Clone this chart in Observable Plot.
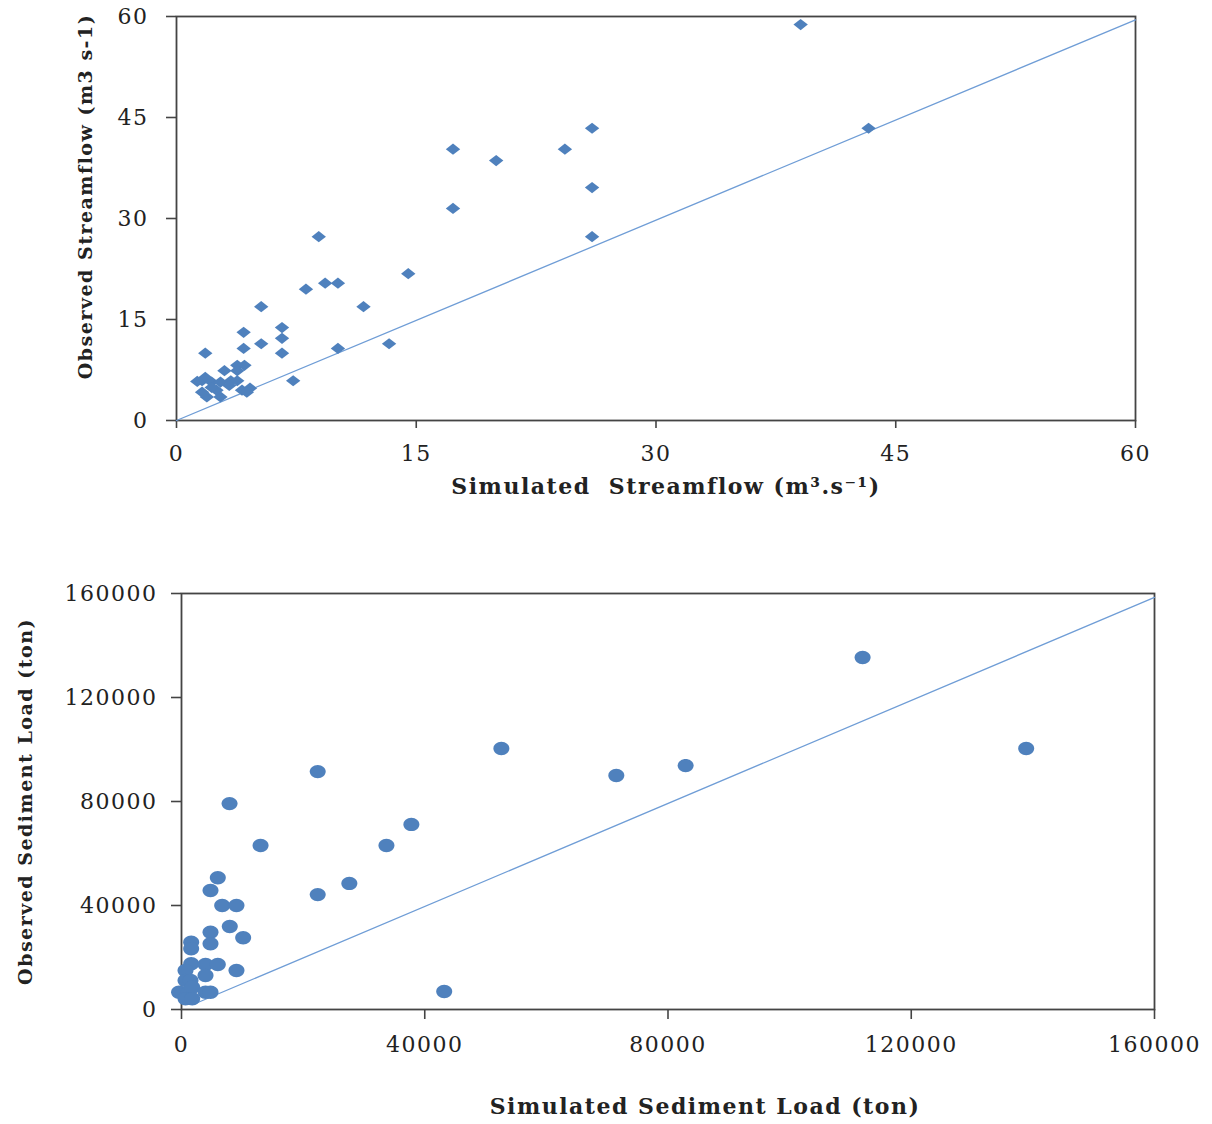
<!DOCTYPE html>
<html>
<head>
<meta charset="utf-8">
<script src="https://cdn.jsdelivr.net/npm/d3@7"></script>
<script src="https://cdn.jsdelivr.net/npm/@observablehq/plot@0.6"></script>
<style>
  body { margin: 0; background: #fff; }
  #chart { width: 1212px; }
  svg { display: block; }
</style>
</head>
<body>
<div id="chart"></div>
<script>
// ---- Streamflow (top) ----
const simFlow = [39.05, 43.3, 26.0, 24.3, 17.3, 20.0, 26.0, 17.3, 26.0, 8.9, 14.5, 9.3, 10.1, 8.1, 5.3, 11.7, 6.6, 4.2, 6.6, 5.3, 13.3, 4.2, 10.1, 1.8, 6.6, 7.3, 3.0, 3.8, 4.25, 3.8, 1.6, 1.8, 2.2, 2.75, 3.4, 3.8, 1.6, 1.9, 2.5, 2.75, 3.3, 4.1, 4.6, 4.4, 1.3, 2.2];
const obsFlow = [58.8, 43.4, 43.4, 40.3, 40.3, 38.6, 34.6, 31.5, 27.3, 27.3, 21.8, 20.4, 20.4, 19.5, 16.9, 16.9, 13.8, 13.1, 12.2, 11.4, 11.4, 10.7, 10.7, 10.0, 10.0, 5.9, 7.4, 8.2, 8.2, 7.4, 5.9, 6.4, 5.7, 5.7, 5.9, 5.9, 4.2, 3.5, 4.5, 3.5, 5.2, 4.5, 4.8, 4.2, 5.8, 4.9];
const flowTicks = [0, 15, 30, 45, 60];
const flowLineX = [0, 60];
const flowLineY = [0, 59.5];

// ---- Sediment (bottom) ----
const simSed = [112000, 138900, 52600, 82900, 71500, 22400, 7900, 37800, 13000, 33700, 27600, 22400, 43200, 5970, 4770, 6690, 9040, 7940, 10140, 4770, 4770, 1590, 1590, 1590, 3950, 5970, 9040, 3950, 660, 660, 1480, -400, 1200, 1760, 3950, 4770, 660, 1760];
const obsSed = [135400, 100400, 100400, 93800, 90000, 91500, 79200, 71200, 63100, 63100, 48500, 44200, 6900, 50650, 45770, 40000, 40000, 31920, 27580, 29730, 25270, 25880, 23350, 17580, 17300, 17300, 15000, 13080, 15000, 11150, 11150, 6650, 6650, 8580, 6650, 6650, 4120, 4120];
const sedTicks = [0, 40000, 80000, 120000, 160000];
const sedLineX = [2300, 160000];
const sedLineY = [2300, 158500];

const blue = "#4F81BD";
const lineBlue = "#6F9DD6";
const axisColor = "#444";

const diamondSymbol = {
  draw(ctx) {
    ctx.moveTo(0, -5.6);
    ctx.lineTo(7.2, 0);
    ctx.lineTo(0, 5.6);
    ctx.lineTo(-7.2, 0);
    ctx.closePath();
  }
};
const ellipseSymbol = {
  draw(ctx) {
    const rx = 8, ry = 6.7, k = 0.5523;
    ctx.moveTo(rx, 0);
    ctx.bezierCurveTo(rx, ry * k, rx * k, ry, 0, ry);
    ctx.bezierCurveTo(-rx * k, ry, -rx, ry * k, -rx, 0);
    ctx.bezierCurveTo(-rx, -ry * k, -rx * k, -ry, 0, -ry);
    ctx.bezierCurveTo(rx * k, -ry, rx, -ry * k, rx, 0);
    ctx.closePath();
  }
};

const baseStyle = {fontFamily: "DejaVu Serif", fontSize: "22px", color: "#222", letterSpacing: "1.5px", background: "#fff"};

const flowData = simFlow.map((x, i) => ({x, y: obsFlow[i]}));
const flowLine = flowLineX.map((x, i) => ({x, y: flowLineY[i]}));

const flowPlot = Plot.plot({
  width: 1212,
  height: 540,
  marginLeft: 176,
  marginRight: 77,
  marginTop: 16,
  marginBottom: 120,
  style: baseStyle,
  x: {domain: [0, 60], ticks: flowTicks},
  y: {domain: [0, 60], ticks: flowTicks},
  marks: [
    Plot.axisX({ticks: flowTicks, tickSize: 8, tickPadding: 17, label: null, stroke: axisColor, strokeWidth: 1.6, fontSize: 22}),
    Plot.axisY({ticks: flowTicks, tickSize: 10, tickPadding: 18, label: null, stroke: axisColor, strokeWidth: 1.6, fontSize: 22}),
    Plot.frame({stroke: axisColor, strokeWidth: 1.8}),
    Plot.line(flowLine, {x: "x", y: "y", stroke: lineBlue, strokeWidth: 1.3}),
    Plot.dot(flowData, {x: "x", y: "y", symbol: diamondSymbol, fill: blue, stroke: "none"}),
    Plot.text(["Observed Streamflow (m3 s-1)"], {frameAnchor: "left", textAnchor: "middle", rotate: -90, dx: -91, dy: -22, fontWeight: "bold", fontSize: 19, fill: "#222"}),
    Plot.text(["Simulated\u00a0\u00a0Streamflow (m³.s⁻¹)"], {frameAnchor: "bottom", dx: 10, dy: 73, fontWeight: "bold", fontSize: 22, fill: "#222"})
  ]
});

const sedData = simSed.map((x, i) => ({x, y: obsSed[i]}));
const sedLine = sedLineX.map((x, i) => ({x, y: sedLineY[i]}));

const sedPlot = Plot.plot({
  width: 1212,
  height: 584,
  marginLeft: 181,
  marginRight: 58,
  marginTop: 53,
  marginBottom: 115,
  style: baseStyle,
  x: {domain: [0, 160000], ticks: sedTicks, tickFormat: d => String(d)},
  y: {domain: [0, 160000], ticks: sedTicks, tickFormat: d => String(d)},
  marks: [
    Plot.axisX({ticks: sedTicks, tickFormat: d => String(d), tickSize: 10, tickPadding: 17, label: null, stroke: axisColor, strokeWidth: 1.6, fontSize: 22}),
    Plot.axisY({ticks: sedTicks, tickFormat: d => String(d), tickSize: 10, tickPadding: 14, label: null, stroke: axisColor, strokeWidth: 1.6, fontSize: 22}),
    Plot.frame({stroke: axisColor, strokeWidth: 1.8}),
    Plot.line(sedLine, {x: "x", y: "y", stroke: lineBlue, strokeWidth: 1.3}),
    Plot.dot(sedData, {x: "x", y: "y", symbol: ellipseSymbol, fill: blue, stroke: "none"}),
    Plot.text(["Observed Sediment Load (ton)"], {frameAnchor: "left", textAnchor: "middle", rotate: -90, dx: -156, dy: 0, fontWeight: "bold", fontSize: 19, fill: "#222"}),
    Plot.text(["Simulated Sediment Load (ton)"], {frameAnchor: "bottom", dx: 37, dy: 104, fontWeight: "bold", fontSize: 22, fill: "#222"})
  ]
});

const root = document.getElementById("chart");
root.appendChild(flowPlot);
root.appendChild(sedPlot);
</script>
</body>
</html>
